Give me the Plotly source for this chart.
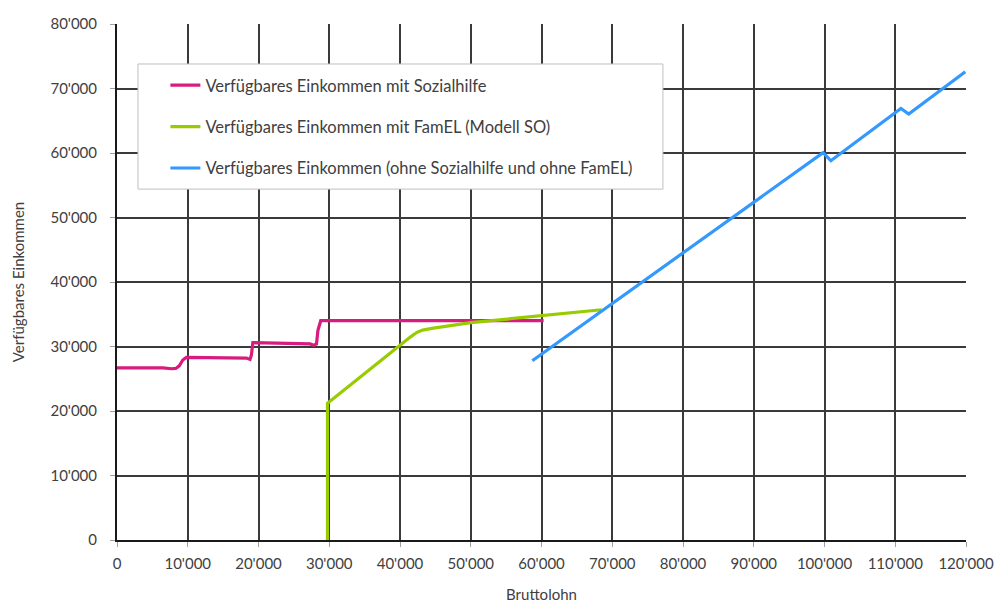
import plotly.graph_objects as go

# Bruttolohn (x) and verfügbares Einkommen (y) for each scenario
sozialhilfe_x = [0, 6500, 7700, 8300, 8800, 9300, 9800, 18300, 18800, 19000, 19200,
                 27300, 27800, 28200, 28400, 28800, 60300]
sozialhilfe_y = [26700, 26700, 26550, 26600, 27000, 27900, 28300, 28200, 28000, 28700, 30600,
                 30400, 30200, 30400, 32500, 34000, 34000]

famel_x = [29750, 29750, 41500, 42400, 43200, 44500, 50000, 60000, 68500]
famel_y = [0, 21200, 31500, 32200, 32550, 32800, 33700, 34800, 35700]

ohne_x = [58700, 99800, 100900, 110800, 111900, 119900]
ohne_y = [27800, 60050, 58800, 66900, 66050, 72600]

series_names = [
    "Verfügbares Einkommen mit Sozialhilfe",
    "Verfügbares Einkommen mit FamEL (Modell SO)",
    "Verfügbares Einkommen (ohne Sozialhilfe und ohne FamEL)",
]
series_colors = ["#d81b7f", "#99cc00", "#3399ff"]

x_ticks = list(range(0, 120001, 10000))
x_ticktext = ["0", "10'000", "20'000", "30'000", "40'000", "50'000", "60'000",
              "70'000", "80'000", "90'000", "100'000", "110'000", "120'000"]
y_ticks = list(range(0, 80001, 10000))
y_ticktext = ["0", "10'000", "20'000", "30'000", "40'000", "50'000", "60'000",
              "70'000", "80'000"]

FONT = "Lato, 'Open Sans', sans-serif"
TEXT = "#404040"

fig = go.Figure()
for i, (xs, ys) in enumerate([(sozialhilfe_x, sozialhilfe_y),
                               (famel_x, famel_y),
                               (ohne_x, ohne_y)]):
    fig.add_trace(go.Scatter(
        x=xs, y=ys, mode="lines", name=series_names[i],
        legendgroup=f"g{i}",
        line=dict(color=series_colors[i], width=3.2),
    ))

# white legend panel
fig.add_shape(type="rect", xref="paper", yref="paper",
              x0=0.0247, x1=0.643, y0=0.680, y1=0.9225,
              fillcolor="white", line=dict(color="#bfbfbf", width=1), layer="above")

axis_common = dict(
    showgrid=True, gridcolor="#3a3a3a", gridwidth=1.6,
    showline=True, linecolor="#1a1a1a", linewidth=2,
    ticks="outside", ticklen=5, tickcolor="#a0a0a0",
    zeroline=False, automargin=False,
    tickfont=dict(size=15, color=TEXT),
)

fig.update_layout(
    width=996, height=603,
    margin=dict(l=117, r=30, t=24, b=63, autoexpand=False),
    paper_bgcolor="white", plot_bgcolor="white",
    font=dict(family=FONT, color=TEXT, size=13),
    showlegend=True,
    legend=dict(
        x=0.057, y=0.915, xanchor="left", yanchor="top",
        bgcolor="rgba(0,0,0,0)", borderwidth=0,
        font=dict(size=16.5, color=TEXT, family=FONT),
        tracegroupgap=17, itemwidth=30,
    ),
    xaxis=dict(
        range=[0, 120000], tickvals=x_ticks, ticktext=x_ticktext,
        ticklabelstandoff=4,
        title=dict(text="Bruttolohn", font=dict(size=15, color=TEXT), standoff=22),
        **axis_common,
    ),
    yaxis=dict(
        range=[0, 80000], tickvals=y_ticks, ticktext=y_ticktext,
        ticklabelstandoff=10,
        title=dict(text="Verfügbares Einkommen", font=dict(size=15, color=TEXT), standoff=22),
        **axis_common,
    ),
)

fig.write_html("out.html")
